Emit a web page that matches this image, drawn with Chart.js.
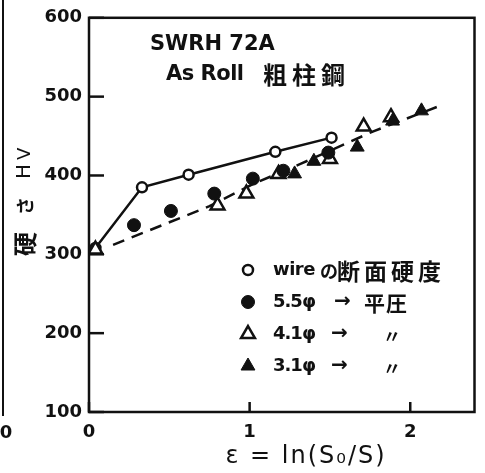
<!DOCTYPE html>
<html>
<head>
<meta charset="utf-8">
<script src="https://cdn.jsdelivr.net/npm/chart.js@4.4.1/dist/chart.umd.min.js"></script>
<style>
  html, body { margin: 0; padding: 0; background: #fff; }
</style>
</head>
<body>
<canvas id="hv" width="485" height="473"></canvas>
<script>
// wire の断面硬度 (open circles, solid line)
const wireX = [0.04, 0.33, 0.62, 1.16, 1.51];
const wireY = [308, 385, 401, 430, 448];
// 5.5φ → 平圧 (filled circles)
const p55X = [0.28, 0.51, 0.78, 1.02, 1.21, 1.49];
const p55Y = [337, 355, 377, 396, 406, 429];
// 4.1φ → 〃 (open triangles)
const p41X = [0.04, 0.80, 0.98, 1.18, 1.50, 1.71, 1.88];
const p41Y = [306, 362, 377, 402, 421, 462, 474];
// 3.1φ → 〃 (filled triangles)
const p31X = [1.28, 1.40, 1.67, 1.89, 2.07];
const p31Y = [402, 418, 436, 469, 482];
// dashed trend line through the rolled data
const fitX = [0.15, 0.75, 1.02, 1.32, 1.77, 2.18];
const fitY = [312, 361, 389, 415, 456, 488];

const xTicks = [0, 1, 2];
const yTicks = [100, 200, 300, 400, 500, 600];

const INK = "#111";
const LATIN = "'DejaVu Sans', sans-serif";
const CJK = "'Noto Sans CJK JP', sans-serif";

const pts = (xs, ys) => xs.map((x, i) => ({ x: x, y: ys[i] }));

// legend marker, same shapes as the chart points
function marker(ctx, style, filled, r, x, y) {
  ctx.save();
  ctx.fillStyle = filled ? INK : "#fff";
  ctx.strokeStyle = INK;
  ctx.lineWidth = filled ? 1 : 2.5;
  if (Chart.helpers && Chart.helpers.drawPoint) {
    Chart.helpers.drawPoint(ctx, { pointStyle: style, radius: r, rotation: 0, borderWidth: ctx.lineWidth }, x, y);
  } else {
    ctx.beginPath();
    ctx.arc(x, y, r, 0, Math.PI * 2);
    ctx.fill(); ctx.stroke();
  }
  ctx.restore();
}

function text(ctx, str, x, y, font, align, spacing) {
  ctx.font = font;
  ctx.textAlign = align || "left";
  ctx.textBaseline = "middle";
  ctx.letterSpacing = (spacing || 0) + "px";
  ctx.fillText(str, x, y);
  ctx.letterSpacing = "0px";
}

const framePlugin = {
  id: "frame",
  afterDraw(chart) {
    const { ctx, chartArea: a, scales } = chart;
    ctx.save();
    ctx.strokeStyle = INK;
    ctx.fillStyle = INK;
    ctx.lineWidth = 2.5;
    ctx.strokeRect(a.left, a.top, a.right - a.left, a.bottom - a.top);

    // tick marks point inward
    scales.y.ticks.forEach(t => {
      const py = scales.y.getPixelForValue(t.value);
      ctx.beginPath(); ctx.moveTo(a.left, py); ctx.lineTo(a.left + 15, py); ctx.stroke();
    });
    scales.x.ticks.forEach(t => {
      const px = scales.x.getPixelForValue(t.value);
      ctx.beginPath(); ctx.moveTo(px, a.bottom); ctx.lineTo(px, a.bottom - 10); ctx.stroke();
    });

    // edge of the neighbouring figure
    ctx.lineWidth = 2;
    ctx.beginPath(); ctx.moveTo(3, 0); ctx.lineTo(3, 416); ctx.stroke();
    text(ctx, "0", 6, 433, "bold 18px " + LATIN, "center");

    // axis titles
    text(ctx, "ε = ln(S₀/S)", 306, 457, "24px " + LATIN, "center", 2);
    ctx.save();
    ctx.translate(25, 256);
    ctx.rotate(-Math.PI / 2);
    text(ctx, "硬", 0, 0, "bold 24px " + CJK);
    text(ctx, "さ", 41, 0, "bold 18px " + CJK);
    text(ctx, "H", 77, 0, "20px " + LATIN);
    text(ctx, "V", 96, 0, "18px " + LATIN);
    ctx.restore();

    // heading
    text(ctx, "SWRH 72A", 150, 45, "bold 21px " + LATIN, "left", 0);
    text(ctx, "As Roll", 166, 75, "bold 21px " + LATIN, "left", -0.5);
    text(ctx, "粗柱鋼", 263, 75, "bold 24px " + CJK, "left", 5);

    // legend
    const lx = 248, tx = 273;
    const rows = [270, 302, 334, 366];
    marker(ctx, "circle", false, 5, lx, rows[0]);
    marker(ctx, "circle", true, 6.5, lx, rows[1]);
    marker(ctx, "triangle", false, 8, lx, rows[2]);
    marker(ctx, "triangle", true, 8, lx, rows[3]);

    const bold = "bold 18px " + LATIN;
    const arrow = "bold 20px " + LATIN;
    text(ctx, "wire", tx, rows[0], bold, "left", -0.5);
    text(ctx, "の", 320, rows[0] + 1, "bold 18px " + CJK);
    text(ctx, "断面硬度", 337, rows[0] + 1, "bold 23px " + CJK, "left", 4);

    text(ctx, "5.5φ", tx, rows[1], bold, "left", -1);
    text(ctx, "→", 334, rows[1], arrow);
    text(ctx, "平圧", 364, rows[1] + 1, "bold 21px " + CJK, "left", 1);

    text(ctx, "4.1φ", tx, rows[2], bold, "left", -1);
    text(ctx, "→", 331, rows[2], arrow);
    text(ctx, "〃", 383, rows[2] + 2, "bold 18px " + CJK);

    text(ctx, "3.1φ", tx, rows[3], bold, "left", -1);
    text(ctx, "→", 331, rows[3], arrow);
    text(ctx, "〃", 383, rows[3] + 2, "bold 18px " + CJK);
    ctx.restore();
  }
};

new Chart(document.getElementById("hv"), {
  type: "scatter",
  data: {
    datasets: [
      {
        label: "3.1φ",
        data: pts(p31X, p31Y),
        pointStyle: "triangle",
        pointRadius: 8,
        pointBackgroundColor: INK,
        pointBorderColor: INK,
        pointBorderWidth: 1
      },
      {
        label: "5.5φ",
        data: pts(p55X, p55Y),
        pointStyle: "circle",
        pointRadius: 6.5,
        pointBackgroundColor: INK,
        pointBorderColor: INK,
        pointBorderWidth: 1
      },
      {
        label: "4.1φ",
        data: pts(p41X, p41Y),
        pointStyle: "triangle",
        pointRadius: 8,
        pointBackgroundColor: "#fff",
        pointBorderColor: INK,
        pointBorderWidth: 2.5
      },
      {
        label: "wire",
        data: pts(wireX, wireY),
        showLine: true,
        borderColor: INK,
        borderWidth: 2.5,
        pointStyle: "circle",
        pointRadius: 5,
        pointBackgroundColor: "#fff",
        pointBorderColor: INK,
        pointBorderWidth: 2.5
      },
      {
        label: "trend",
        data: pts(fitX, fitY),
        showLine: true,
        borderColor: INK,
        borderWidth: 2.5,
        borderDash: [12, 8],
        pointRadius: 0
      }
    ]
  },
  options: {
    responsive: false,
    animation: false,
    layout: { padding: { left: 0, top: 14, right: 9, bottom: 0 } },
    plugins: {
      legend: { display: false },
      tooltip: { enabled: false }
    },
    scales: {
      x: {
        type: "linear",
        min: 0,
        max: 2.4,
        afterBuildTicks: s => { s.ticks = xTicks.map(v => ({ value: v })); },
        afterFit: s => { s.height = 61; },
        grid: { display: false, drawTicks: false },
        border: { display: false },
        ticks: {
          color: INK,
          padding: 10,
          font: { family: "DejaVu Sans", size: 18, weight: "bold" }
        }
      },
      y: {
        type: "linear",
        min: 100,
        max: 600,
        afterBuildTicks: s => { s.ticks = yTicks.map(v => ({ value: v })); },
        afterFit: s => { s.width = 89; },
        grid: { display: false, drawTicks: false },
        border: { display: false },
        ticks: {
          color: INK,
          padding: 7,
          font: { family: "DejaVu Sans", size: 18, weight: "bold" }
        }
      }
    }
  },
  plugins: [framePlugin]
});
</script>
</body>
</html>
